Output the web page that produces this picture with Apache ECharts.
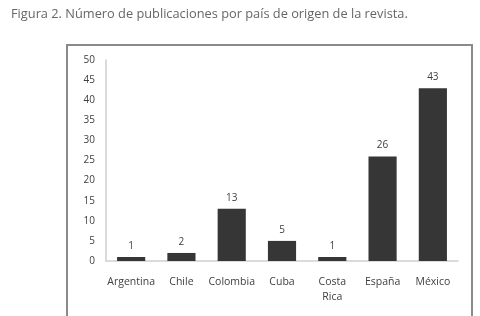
<!DOCTYPE html>
<html><head><meta charset="utf-8">
<script src="https://cdn.jsdelivr.net/npm/echarts@6/dist/echarts.min.js"></script>
<style>html,body{margin:0;padding:0;background:#fff}#c{width:480px;height:316px}</style>
</head><body><div id="c"></div>
<script>
const titleText = 'Figura 2. Número de publicaciones por país de origen de la revista.';
const categories = ['Argentina','Chile','Colombia','Cuba','Costa Rica','España','México'];
const values = [1, 2, 13, 5, 1, 26, 43];
const yTicks = [0, 5, 10, 15, 20, 25, 30, 35, 40, 45, 50];

const chart = echarts.init(document.getElementById('c'), null, {renderer:'canvas'});
chart.setOption({
  animation: false,
  backgroundColor: '#fff',
  textStyle: {fontFamily: 'Open Sans'},
  title: {text: titleText, left: 6, top: 3,
    textStyle: {fontSize: 12.8, fontWeight: 'normal', color: '#666', fontFamily: 'Open Sans'}},
  graphic: [{type: 'rect', shape: {x: 67, y: 45, width: 405, height: 290},
    style: {fill: 'none', stroke: '#8a8a8a', lineWidth: 2}, silent: true}],
  grid: {left: 106, right: 22, top: 60, bottom: 55},
  xAxis: {type: 'category', data: categories,
    axisLine: {lineStyle: {color: '#cfcfcf', width: 1.5}},
    axisTick: {show: false},
    axisLabel: {color: '#404040', fontSize: 10.5, margin: 14, lineHeight: 15, interval: 0,
      formatter: v => v.replace(' ', '\n')}},
  yAxis: {type: 'value', min: yTicks[0], max: yTicks[yTicks.length-1], interval: 5,
    axisLine: {show: true, lineStyle: {color: '#cfcfcf', width: 1.5}},
    axisTick: {show: false},
    splitLine: {show: false},
    axisLabel: {color: '#404040', fontSize: 10, margin: 11}},
  series: [{type: 'bar', data: values, barWidth: '56%',
    itemStyle: {color: '#363636'},
    label: {show: true, position: 'top', distance: 6, color: '#404040', fontSize: 10}}]
});
</script></body></html>
